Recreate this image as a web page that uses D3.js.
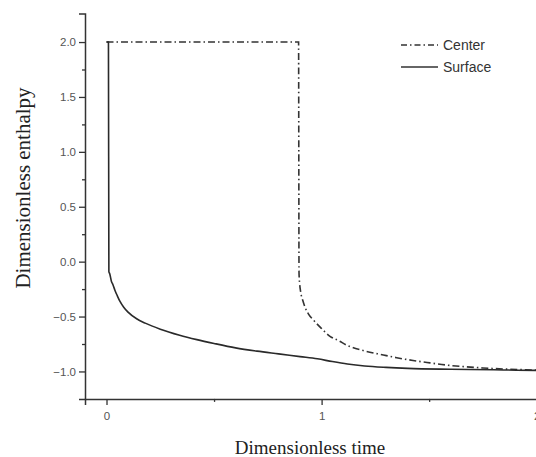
<!DOCTYPE html>
<html>
<head>
<meta charset="utf-8">
<script src="https://cdn.jsdelivr.net/npm/d3@7"></script>
<style>
  html, body { margin: 0; padding: 0; background: #fff; }
  svg { display: block; }
</style>
</head>
<body>
<svg id="chart" width="536" height="457"></svg>
<script>
// ---- Data ----
const centerT = [0, 0.893, 0.894, 0.895, 0.898, 0.903, 0.912, 0.922, 0.94, 0.961, 1.0, 1.039, 1.08, 1.116, 1.193, 1.287, 1.349, 1.425, 1.504, 1.58, 1.66, 1.75, 1.85, 1.95, 2.05, 2.1];
const centerV = [2.0, 2.0, 1.0, -0.1, -0.2, -0.28, -0.35, -0.41, -0.48, -0.53, -0.61, -0.68, -0.72, -0.76, -0.81, -0.85, -0.875, -0.9, -0.922, -0.942, -0.956, -0.968, -0.978, -0.985, -0.99, -0.99];

const surfaceT = [0, 0.009, 0.011, 0.015, 0.023, 0.03, 0.039, 0.05, 0.062, 0.08, 0.1, 0.14, 0.18, 0.25, 0.34, 0.42, 0.5, 0.6, 0.7, 0.8, 0.9, 0.98, 1.05, 1.12, 1.2, 1.3, 1.4, 1.6, 1.8, 2.0, 2.1];
const surfaceV = [2.0, 2.0, -0.09, -0.11, -0.18, -0.21, -0.26, -0.31, -0.36, -0.415, -0.46, -0.52, -0.56, -0.615, -0.67, -0.71, -0.745, -0.785, -0.815, -0.84, -0.865, -0.885, -0.91, -0.932, -0.95, -0.963, -0.972, -0.98, -0.985, -0.99, -0.99];

const seriesNames = ["Center", "Surface"];
const yMajorTicks = [-1.0, -0.5, 0.0, 0.5, 1.0, 1.5, 2.0];
const yMinorTicks = [-0.75, -0.25, 0.25, 0.75, 1.25, 1.75];
const xMajorTicks = [0, 1, 2];
const xMinorTicks = [0.5, 1.5];
const xTitle = "Dimensionless time";
const yTitle = "Dimensionless enthalpy";

// ---- Layout ----
const svg = d3.select("#chart");
const x = d3.scaleLinear().domain([-0.1, 2.1]).range([85, 106.7 + 2.1 * 215]);
const y = d3.scaleLinear().domain([-1.25, 2.26]).range([398.9, 13.5]);
const axisColor = "#333";
const labelColor = "#555";

const line = d3.line().x(d => x(d[0])).y(d => y(d[1])).curve(d3.curveMonotoneX);
const centerData = centerT.map((t, i) => [t, centerV[i]]);
const surfaceData = surfaceT.map((t, i) => [t, surfaceV[i]]);

// Curves
svg.append("path").datum(centerData)
  .attr("d", line).attr("fill", "none")
  .attr("stroke", "#333").attr("stroke-width", 1.6)
  .attr("stroke-dasharray", "7,3,1.5,3");

svg.append("path").datum(surfaceData)
  .attr("d", line).attr("fill", "none")
  .attr("stroke", "#2a2a2a").attr("stroke-width", 1.6);

// Y axis
const yAxisG = svg.append("g").attr("transform", `translate(${x(-0.1)},0)`);
yAxisG.call(d3.axisLeft(y).tickValues(yMajorTicks).tickSize(6).tickPadding(3)
  .tickFormat(d3.format(".1f")));
yAxisG.append("g").call(d3.axisLeft(y).tickValues(yMinorTicks).tickSize(3).tickFormat(""))
  .select(".domain").remove();
yAxisG.selectAll(".domain").attr("stroke", axisColor).attr("stroke-width", 1.5);
yAxisG.selectAll(".tick line").attr("stroke", axisColor).attr("stroke-width", 1.3);
yAxisG.selectAll(".tick text").attr("fill", labelColor)
  .style("font-family", "'Liberation Sans', Arial, sans-serif").style("font-size", "11.5px");

// X axis
const xAxisG = svg.append("g").attr("transform", `translate(0,${y(-1.25)})`);
xAxisG.call(d3.axisBottom(x).tickValues(xMajorTicks).tickSize(6).tickPadding(7)
  .tickFormat(d3.format("d")));
xAxisG.append("g").call(d3.axisBottom(x).tickValues(xMinorTicks).tickSize(3).tickFormat(""))
  .select(".domain").remove();
xAxisG.selectAll(".domain").attr("stroke", axisColor).attr("stroke-width", 1.5);
xAxisG.selectAll(".tick line").attr("stroke", axisColor).attr("stroke-width", 1.3);
xAxisG.selectAll(".tick text").attr("fill", labelColor)
  .style("font-family", "'Liberation Sans', Arial, sans-serif").style("font-size", "11.5px");

// Axis titles
svg.append("text").text(xTitle)
  .attr("x", 310).attr("y", 454).attr("text-anchor", "middle")
  .attr("fill", "#222")
  .style("font-family", "'Liberation Serif', 'Times New Roman', serif").style("font-size", "19px");

svg.append("text").text(yTitle)
  .attr("transform", "translate(30,188) rotate(-90)").attr("text-anchor", "middle")
  .attr("fill", "#222")
  .style("font-family", "'Liberation Serif', 'Times New Roman', serif").style("font-size", "21px");

// Legend
const legend = svg.append("g");
const legendY = [45, 67];
const legendDash = ["6,3,1.5,3", null];
seriesNames.forEach((name, i) => {
  const ln = legend.append("line")
    .attr("x1", 401).attr("x2", 438).attr("y1", legendY[i]).attr("y2", legendY[i])
    .attr("stroke", "#333").attr("stroke-width", 1.5);
  if (legendDash[i]) ln.attr("stroke-dasharray", legendDash[i]);
  legend.append("text").text(name)
    .attr("x", 443).attr("y", legendY[i]).attr("dy", "0.36em")
    .attr("fill", "#333")
    .style("font-family", "'Liberation Sans', Arial, sans-serif").style("font-size", "14px");
});
</script>
</body>
</html>
